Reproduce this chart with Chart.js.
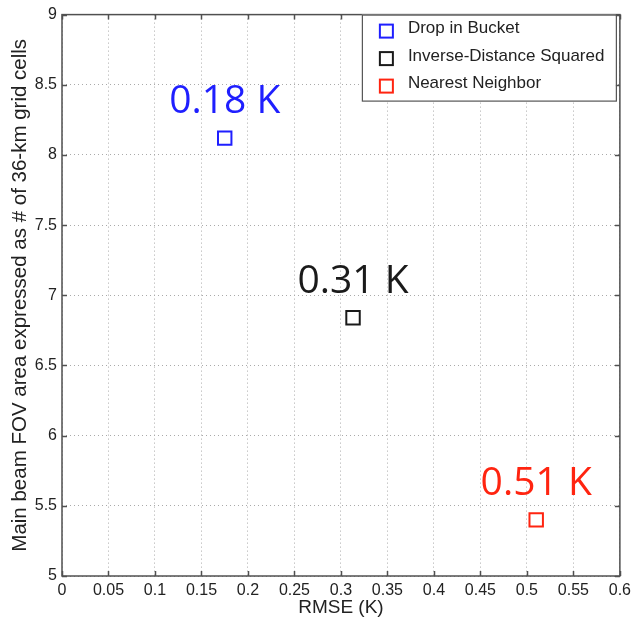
<!DOCTYPE html>
<html>
<head>
<meta charset="utf-8">
<script src="https://cdn.jsdelivr.net/npm/chart.js@4"></script>
<style>
  html, body { margin: 0; padding: 0; background: #ffffff; }
  canvas { display: block; }
</style>
</head>
<body>
<canvas id="rmse-chart" width="636" height="620"></canvas>
<script>
// Data
const methods = ['Drop in Bucket', 'Inverse-Distance Squared', 'Nearest Neighbor'];
const rmse = [0.175, 0.313, 0.51];          // x, RMSE (K)
const fovCells = [8.12, 6.84, 5.40];        // y, # of 36-km grid cells
const rmseLabels = ['0.18 K', '0.31 K', '0.51 K'];
const colors = ['#1f1fff', '#1a1a1a', '#ff2410'];

const xTicks = [0, 0.05, 0.1, 0.15, 0.2, 0.25, 0.3, 0.35, 0.4, 0.45, 0.5, 0.55, 0.6];
const xTickLabels = ['0', '0.05', '0.1', '0.15', '0.2', '0.25', '0.3', '0.35', '0.4', '0.45', '0.5', '0.55', '0.6'];
const yTicks = [5, 5.5, 6, 6.5, 7, 7.5, 8, 8.5, 9];
const yTickLabels = ['5', '5.5', '6', '6.5', '7', '7.5', '8', '8.5', '9'];

const tickFont = { family: 'Liberation Sans, Arial, sans-serif', size: 16 };

// Matlab-like box around the axes with inward tick marks
const framePlugin = {
    id: 'frame',
    afterDraw(chart) {
        const { ctx, chartArea: a, scales } = chart;
        ctx.save();
        ctx.strokeStyle = '#505050';
        ctx.lineWidth = 1.5;
        ctx.beginPath();
        xTicks.forEach(v => {
            const px = Math.round(scales.x.getPixelForValue(v)) + 0.5;
            ctx.moveTo(px, a.bottom); ctx.lineTo(px, a.bottom - 5);
            ctx.moveTo(px, a.top); ctx.lineTo(px, a.top + 5);
        });
        yTicks.forEach(v => {
            const py = Math.round(scales.y.getPixelForValue(v)) + 0.5;
            ctx.moveTo(a.left, py); ctx.lineTo(a.left + 5, py);
            ctx.moveTo(a.right, py); ctx.lineTo(a.right - 5, py);
        });
        ctx.stroke();
        ctx.strokeRect(a.left, a.top, a.right - a.left, a.bottom - a.top);
        ctx.restore();
    }
};

// Big coloured RMSE labels above each point
const pointLabelPlugin = {
    id: 'pointLabels',
    afterDatasetsDraw(chart) {
        const ctx = chart.ctx;
        ctx.save();
        ctx.font = '39px "Open Sans", "Liberation Sans", sans-serif';
        ctx.textAlign = 'center';
        ctx.textBaseline = 'alphabetic';
        chart.data.datasets.forEach((ds, i) => {
            const pt = chart.getDatasetMeta(i).data[0];
            ctx.fillStyle = colors[i];
            ctx.fillText(rmseLabels[i], pt.x, pt.y - 25);
        });
        ctx.restore();
    }
};

// Boxed legend in the top right corner
const boxLegendPlugin = {
    id: 'boxLegend',
    afterDraw(chart) {
        const { ctx, chartArea: a } = chart;
        const left = a.right - 258, top = a.top, w = 254, h = 86;
        ctx.save();
        ctx.fillStyle = '#ffffff';
        ctx.fillRect(left, top, w, h);
        ctx.strokeStyle = '#555';
        ctx.lineWidth = 1.2;
        ctx.strokeRect(left + 0.5, top + 0.5, w, h);
        ctx.font = '17px "Liberation Sans", Arial, sans-serif';
        ctx.textBaseline = 'middle';
        methods.forEach((name, i) => {
            const cy = top + 16 + i * 27.5;
            ctx.strokeStyle = colors[i];
            ctx.lineWidth = 2;
            ctx.strokeRect(left + 18, cy - 6, 13, 13);
            ctx.fillStyle = '#222';
            ctx.fillText(name, left + 46, cy - 2);
        });
        ctx.restore();
    }
};

const ctx = document.getElementById('rmse-chart').getContext('2d');
new Chart(ctx, {
    type: 'scatter',
    data: {
        datasets: methods.map((name, i) => ({
            label: name,
            data: [{ x: rmse[i], y: fovCells[i] }],
            pointStyle: 'rect',
            pointRadius: 9.5,
            pointHoverRadius: 9.5,
            borderWidth: 2,
            borderColor: colors[i],
            backgroundColor: 'rgba(255,255,255,0)'
        }))
    },
    options: {
        responsive: false,
        animation: false,
        devicePixelRatio: 1,
        layout: { padding: { left: 4, right: 13, top: 14, bottom: 0 } },
        plugins: {
            legend: { display: false },
            tooltip: { enabled: false }
        },
        scales: {
            x: {
                type: 'linear',
                min: 0,
                max: 0.6,
                afterBuildTicks: scale => { scale.ticks = xTicks.map(v => ({ value: v })); },
                afterFit: scale => { scale.height = 44; },
                ticks: {
                    callback: (v, i) => xTickLabels[i],
                    font: tickFont,
                    color: '#222',
                    padding: 5,
                    maxRotation: 0,
                    autoSkip: false
                },
                grid: { color: '#aaa', lineWidth: 1, drawTicks: false },
                border: { display: false, dash: [1, 3] },
                title: {
                    display: true,
                    text: 'RMSE (K)',
                    font: { family: 'Liberation Sans, Arial, sans-serif', size: 19 },
                    color: '#222',
                    padding: { top: 0, bottom: 1 }
                }
            },
            y: {
                type: 'linear',
                min: 5,
                max: 9,
                afterBuildTicks: scale => { scale.ticks = yTicks.map(v => ({ value: v })); },
                afterFit: scale => { scale.width = 58; },
                ticks: {
                    callback: (v, i) => yTickLabels[i],
                    font: tickFont,
                    color: '#222',
                    padding: 5,
                    autoSkip: false
                },
                grid: { color: '#aaa', lineWidth: 1, drawTicks: false },
                border: { display: false, dash: [1, 3] },
                title: {
                    display: true,
                    text: 'Main beam FOV area expressed as # of 36-km grid cells',
                    font: { family: 'Liberation Sans, Arial, sans-serif', size: 20.5 },
                    color: '#222',
                    padding: { top: 4, bottom: 0 }
                }
            }
        }
    },
    plugins: [framePlugin, pointLabelPlugin, boxLegendPlugin]
});
</script>
</body>
</html>
